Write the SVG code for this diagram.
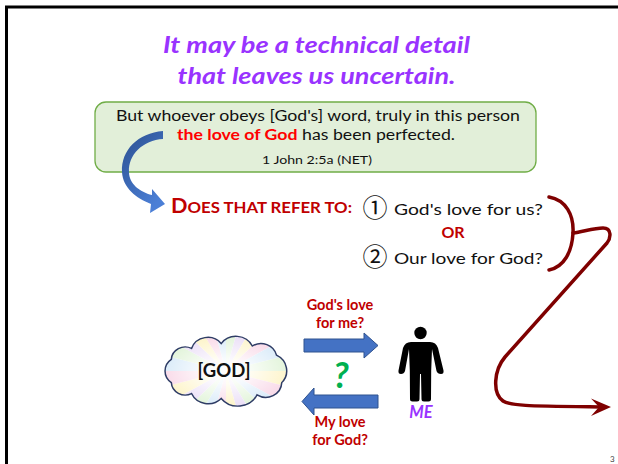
<svg xmlns="http://www.w3.org/2000/svg" width="618" height="464" viewBox="0 0 618 464">
<style>
  text { font-family: Lato, "Liberation Sans", sans-serif; }
  .title { font-size: 23px; font-weight: bold; font-style: italic; fill: #9933ff; }
  .verse { font-size: 15.5px; fill: #111; }
  .dred { fill: #c00000; font-weight: bold; }
  .opt { font-size: 16px; fill: #111; }
  .num { font-family: "Noto Sans CJK JP", "DejaVu Sans", sans-serif; font-size: 25px; fill: #111; }
  .lbl { font-size: 14.5px; font-weight: bold; fill: #c00000; text-anchor: middle; }
  .barrow { fill: #4472c4; stroke: #2f528f; stroke-width: 1; }
  .squig { fill: none; stroke: #7f0000; stroke-width: 3.5; stroke-linecap: round; stroke-linejoin: round; }
</style>
<defs>
  <linearGradient id="bg" x1="0" y1="0" x2="0.6" y2="1">
    <stop offset="0" stop-color="#2b4f8f"/>
    <stop offset="1" stop-color="#4b7fd6"/>
  </linearGradient>
  <radialGradient id="glow" cx="0.5" cy="0.5" r="0.5">
    <stop offset="0" stop-color="#fff" stop-opacity="1"/>
    <stop offset="0.35" stop-color="#fff" stop-opacity="0.8"/>
    <stop offset="1" stop-color="#fff" stop-opacity="0.05"/>
  </radialGradient>
  <clipPath id="cloudClip">
    <path id="cloudShape" d="M174.9,359.6 A13,13 0 0 1 193.8,348.9 A16,16 0 0 1 221.5,344.1 A17,17 0 0 1 250.6,346.5 A15,15 0 0 1 273.2,355.5 A17,17 0 0 1 278.1,382.4 A15,15 0 0 1 255,394.4 A20,20 0 0 1 221.5,397.9 A17,17 0 0 1 193.8,393.1 A13,13 0 0 1 174.9,382.4 A14,14 0 0 1 174.9,359.6 Z"/>
  </clipPath>
</defs>
<rect width="618" height="464" fill="#fff"/>
<rect x="6.5" y="7" width="640" height="480" fill="none" stroke="#000" stroke-width="3"/>

<g id="title">
  <text class="title" x="316.5" y="53" text-anchor="middle" textLength="307" lengthAdjust="spacingAndGlyphs">It may be a technical detail</text>
  <text class="title" x="316.5" y="84" text-anchor="middle" textLength="278" lengthAdjust="spacingAndGlyphs">that leaves us uncertain.</text>
</g>

<g id="verse-box">
  <rect x="95" y="102" width="441" height="70" rx="11" fill="#e2efd9" stroke="#70ad47" stroke-width="1.3"/>
  <text class="verse" x="318" y="121" text-anchor="middle" textLength="404" lengthAdjust="spacingAndGlyphs">But whoever obeys [God's] word, truly in this person</text>
  <text class="verse" x="177" y="140" textLength="278" lengthAdjust="spacingAndGlyphs"><tspan fill="#ff0000" font-weight="bold">the love of God</tspan> has been perfected.</text>
  <text x="317" y="164" text-anchor="middle" font-size="11.5" fill="#111" textLength="110" lengthAdjust="spacingAndGlyphs">1 John 2:5a (NET)</text>
</g>

<g id="question">
  <text class="dred" x="171" y="213" textLength="181" lengthAdjust="spacingAndGlyphs"><tspan font-size="20">D</tspan><tspan font-size="15.5">OES THAT REFER TO:</tspan></text>
</g>

<g id="option1">
  <text class="num" x="375" y="217" text-anchor="middle">①</text>
  <text class="opt" x="394" y="215" textLength="149" lengthAdjust="spacingAndGlyphs">God's love for us?</text>
</g>
<g id="or">
  <text class="dred" x="453" y="238" text-anchor="middle" font-size="16">OR</text>
</g>
<g id="option2">
  <text class="num" x="375" y="266" text-anchor="middle">②</text>
  <text class="opt" x="394" y="264" textLength="149" lengthAdjust="spacingAndGlyphs">Our love for God?</text>
</g>

<g id="god-cloud">
  <g transform="translate(226,371) scale(1.07,1.02) translate(-226,-371)">
    <g clip-path="url(#cloudClip)">
      <g transform="translate(226,371)">
        <polygon points="0,0 90,0 86.9,23.3" fill="#fdf3c4"/>
        <polygon points="0,0 86.9,23.3 77.9,45" fill="#f8d6e6"/>
        <polygon points="0,0 77.9,45 63.6,63.6" fill="#d6e9f8"/>
        <polygon points="0,0 63.6,63.6 45,77.9" fill="#dff3d6"/>
        <polygon points="0,0 45,77.9 23.3,86.9" fill="#e9dcf6"/>
        <polygon points="0,0 23.3,86.9 0,90" fill="#fdf3c4"/>
        <polygon points="0,0 0,90 -23.3,86.9" fill="#f8d6e6"/>
        <polygon points="0,0 -23.3,86.9 -45,77.9" fill="#d6e9f8"/>
        <polygon points="0,0 -45,77.9 -63.6,63.6" fill="#dff3d6"/>
        <polygon points="0,0 -63.6,63.6 -77.9,45" fill="#e9dcf6"/>
        <polygon points="0,0 -77.9,45 -86.9,23.3" fill="#fdf3c4"/>
        <polygon points="0,0 -86.9,23.3 -90,0" fill="#f8d6e6"/>
        <polygon points="0,0 -90,0 -86.9,-23.3" fill="#d6e9f8"/>
        <polygon points="0,0 -86.9,-23.3 -77.9,-45" fill="#dff3d6"/>
        <polygon points="0,0 -77.9,-45 -63.6,-63.6" fill="#e9dcf6"/>
        <polygon points="0,0 -63.6,-63.6 -45,-77.9" fill="#fdf3c4"/>
        <polygon points="0,0 -45,-77.9 -23.3,-86.9" fill="#f8d6e6"/>
        <polygon points="0,0 -23.3,-86.9 0,-90" fill="#d6e9f8"/>
        <polygon points="0,0 0,-90 23.3,-86.9" fill="#dff3d6"/>
        <polygon points="0,0 23.3,-86.9 45,-77.9" fill="#e9dcf6"/>
        <polygon points="0,0 45,-77.9 63.6,-63.6" fill="#fdf3c4"/>
        <polygon points="0,0 63.6,-63.6 77.9,-45" fill="#f8d6e6"/>
        <polygon points="0,0 77.9,-45 86.9,-23.3" fill="#d6e9f8"/>
        <polygon points="0,0 86.9,-23.3 90,0" fill="#dff3d6"/>
      </g>
      <ellipse cx="226" cy="371" rx="62" ry="36" fill="url(#glow)"/>
    </g>
    <use href="#cloudShape" fill="none" stroke="#2f3d66" stroke-width="1.4"/>
  </g>
  <text x="224" y="377" text-anchor="middle" font-size="18.5" font-weight="bold" fill="#111">[GOD]</text>
</g>

<g id="me">
  <circle cx="420.5" cy="333" r="6.2" fill="#000"/>
  <path d="M403,348 Q405,342 411,342 L430,342 Q436,342 438,348 L443.5,370.5 Q444,374 441,374 Q437.5,374 436.5,371 L432,349 L431.2,371 L431,399 Q431,401.5 428.5,401.5 L424,401.5 Q421.5,401.5 421.5,399 L421,374 L420,374 L419.5,399 Q419.5,401.5 417,401.5 L412.5,401.5 Q410,401.5 410,399 L409.8,371 L409,349 L405,371 Q404,374 401,374 Q398,374 398.5,370.5 Z" fill="#000"/>
  <text x="421" y="418" text-anchor="middle" font-size="16.5" font-weight="bold" font-style="italic" fill="#9933ff">ME</text>
</g>

<g id="label-gods-love">
  <text class="lbl" x="340" y="310">God's love</text>
  <text class="lbl" x="340" y="328">for me?</text>
</g>
<g id="label-my-love">
  <text class="lbl" x="340" y="427">My love</text>
  <text class="lbl" x="340" y="445">for God?</text>
</g>
<g id="qmark">
  <text x="341" y="388" text-anchor="middle" font-size="36" font-weight="bold" font-style="italic" fill="#00b050">?</text>
</g>

<g id="connectors">
  <path d="M163,131 C138,133 121,150 122,172 C123,188 136,198 151,204 L150,213 L165,204 L152,189 L152,195 C140,192 129,184 129,172 C128,155 143,140 163,139 Z" fill="url(#bg)"/>
  <path class="barrow" d="M304,339 L364,339 L364,333 L378,345.5 L364,358 L364,352 L304,352 Z"/>
  <path class="barrow" d="M378,395 L314,395 L314,388 L302,401.5 L314,415 L314,408 L378,408 Z"/>
  <path class="squig" d="M549,197 C566,200 574,215 573,233 C572,252 564,267 549,270"/>
  <path class="squig" d="M573,233 C585,231 595,228 603,228 C612,228 611,238 607,243 L505,357 C494,370 492,393 503,401 C510,406 530,406 600,407"/>
  <polygon points="611,407 591,398.5 599,407 591,416" fill="#7f0000"/>
</g>

<text x="610" y="462" font-size="8" fill="#444">3</text>
</svg>
